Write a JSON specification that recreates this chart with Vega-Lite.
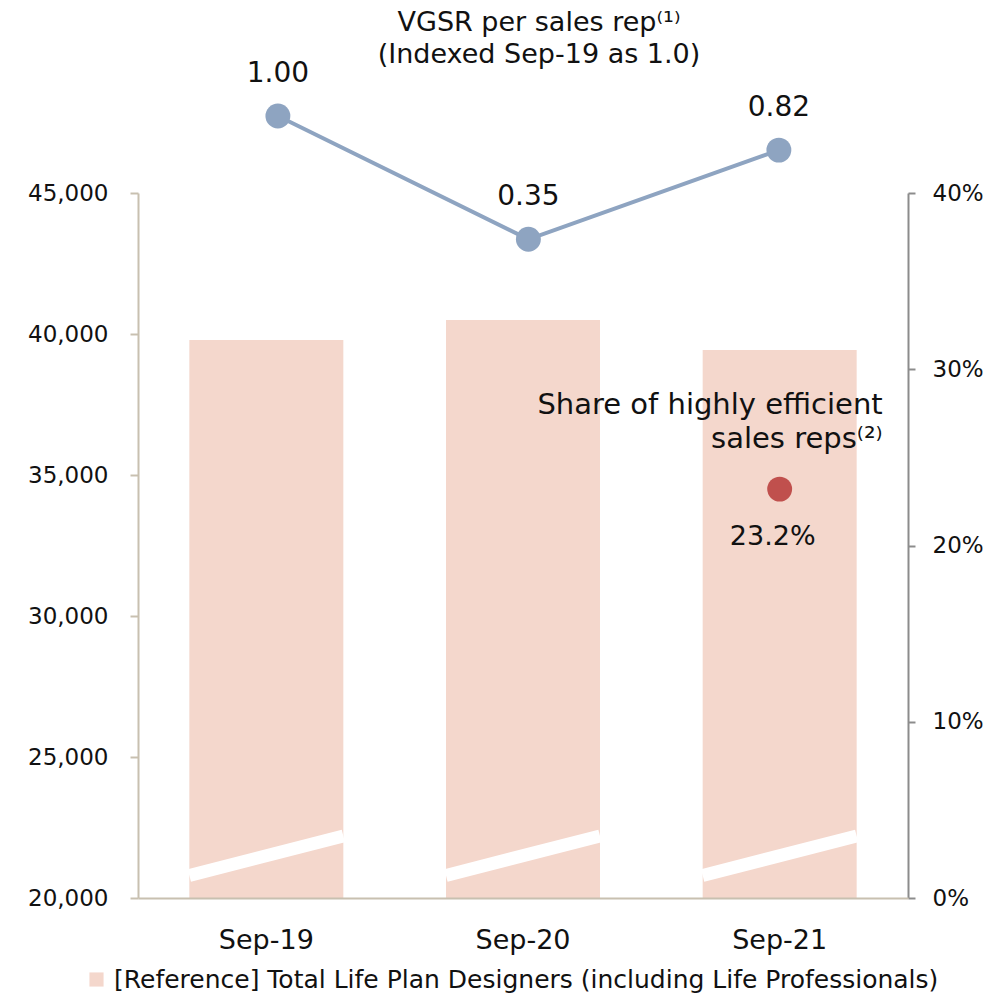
{
  "$schema": "https://vega.github.io/schema/vega-lite/v6.json",
  "width": 770,
  "height": 705,
  "autosize": {"type": "none"},
  "padding": {"left": 138, "top": 193, "right": 92, "bottom": 97},
  "background": "white",
  "config": {
    "font": "DejaVu Sans",
    "view": {"stroke": null},
    "text": {"font": "DejaVu Sans", "color": "#111111"}
  },
  "title": {
    "text": ["VGSR per sales rep⁽¹⁾", "(Indexed Sep-19 as 1.0)"],
    "fontSize": 27,
    "fontWeight": "normal",
    "lineHeight": 32,
    "anchor": "middle",
    "frame": "group",
    "dx": 16,
    "color": "#111111",
    "font": "DejaVu Sans",
    "offset": -9
  },
  "datasets": {
    "main": [
      {"period": "Sep-19", "designers": 39790, "vgsr": 1.00, "share": null},
      {"period": "Sep-20", "designers": 40500, "vgsr": 0.35, "share": null},
      {"period": "Sep-21", "designers": 39430, "vgsr": 0.82, "share": 0.232}
    ]
  },
  "data": {"name": "main"},
  "layer": [
    {
      "encoding": {
        "x": {
          "field": "period",
          "type": "nominal",
          "sort": null,
          "scale": {"paddingInner": 0.4, "paddingOuter": 0.2},
          "axis": {
            "title": null,
            "labelAngle": 0,
            "labelFontSize": 27,
            "labelColor": "#111111",
            "labelPadding": 29,
            "ticks": false,
            "domainColor": "#c8c0b0",
            "domainWidth": 2,
            "zindex": 1
          }
        }
      },
      "layer": [
        {
          "mark": {"type": "bar", "clip": true},
          "encoding": {
            "y": {
              "field": "designers",
              "type": "quantitative",
              "scale": {"domain": [20000, 45000], "nice": false, "zero": false},
              "axis": {
                "orient": "left",
                "title": null,
                "values": [20000, 25000, 30000, 35000, 40000, 45000],
                "format": ",d",
                "grid": false,
                "labelFontSize": 23,
                "labelColor": "#111111",
                "labelPadding": 22,
                "tickSize": 8,
                "tickColor": "#c8c0b0",
                "tickWidth": 2,
                "domainColor": "#c8c0b0",
                "domainWidth": 2,
                "zindex": 1
              }
            },
            "fill": {
              "datum": "[Reference] Total Life Plan Designers (including Life Professionals)",
              "type": "nominal",
              "scale": {"range": ["#f4d7cc"]},
              "legend": {
                "title": null,
                "orient": "none",
                "legendX": -54,
                "legendY": 774,
                "symbolType": "square",
                "symbolSize": 200,
                "symbolStrokeWidth": 0,
                "labelFontSize": 25,
                "labelColor": "#111111",
                "labelLimit": 0,
                "labelOffset": 5
              }
            }
          }
        },
        {
          "mark": {"type": "rule", "color": "white", "strokeWidth": 13, "xOffset": -77, "x2Offset": 77},
          "encoding": {
            "x2": {"field": "period"},
            "y": {"datum": 20800, "type": "quantitative"},
            "y2": {"datum": 22200}
          }
        }
      ]
    },
    {
      "transform": [{"filter": "isValid(datum.share)"}],
      "encoding": {
        "x": {"field": "period", "type": "nominal", "sort": ["Sep-19", "Sep-20", "Sep-21"], "scale": {"domain": ["Sep-19", "Sep-20", "Sep-21"], "padding": 0.5}, "axis": null},
        "y": {
          "field": "share",
          "type": "quantitative",
          "scale": {"domain": [0, 0.4], "nice": false},
          "axis": {
            "orient": "right",
            "title": null,
            "values": [0, 0.1, 0.2, 0.3, 0.4],
            "format": ".0%",
            "grid": false,
            "labelFontSize": 23,
            "labelColor": "#111111",
            "labelPadding": 17,
            "tickSize": 7,
            "tickColor": "#8c8c8c",
            "tickWidth": 2,
            "domainColor": "#8c8c8c",
            "domainWidth": 2
          }
        }
      },
      "layer": [
        {"mark": {"type": "circle", "size": 620, "color": "#c0504d", "opacity": 1}},
        {
          "mark": {"type": "text", "fontSize": 27, "dy": 48, "dx": -7, "baseline": "middle", "align": "center"},
          "encoding": {"text": {"field": "share", "type": "quantitative", "format": ".1%"}}
        },
        {
          "mark": {"type": "text", "fontSize": 29, "dy": -84, "dx": 103, "baseline": "middle", "align": "right", "lineHeight": 34},
          "encoding": {"text": {"value": ["Share of highly efficient", "sales reps⁽²⁾"]}}
        }
      ]
    },
    {
      "encoding": {
        "x": {"field": "period", "type": "nominal", "sort": null, "scale": {"type": "point", "padding": 0.537, "align": 0.52}, "axis": null},
        "y": {"field": "vgsr", "type": "quantitative", "scale": {"domain": [-3.122, 0.594], "nice": false, "zero": false}, "axis": null}
      },
      "layer": [
        {"mark": {"type": "line", "color": "#8ea4c1", "strokeWidth": 4}},
        {"mark": {"type": "circle", "size": 620, "color": "#8ea4c1", "opacity": 1}},
        {
          "mark": {"type": "text", "fontSize": 28, "dy": -42, "baseline": "middle", "align": "center"},
          "encoding": {"text": {"field": "vgsr", "type": "quantitative", "format": ".2f"}}
        }
      ]
    }
  ],
  "resolve": {"scale": {"x": "independent", "y": "independent"}}
}
